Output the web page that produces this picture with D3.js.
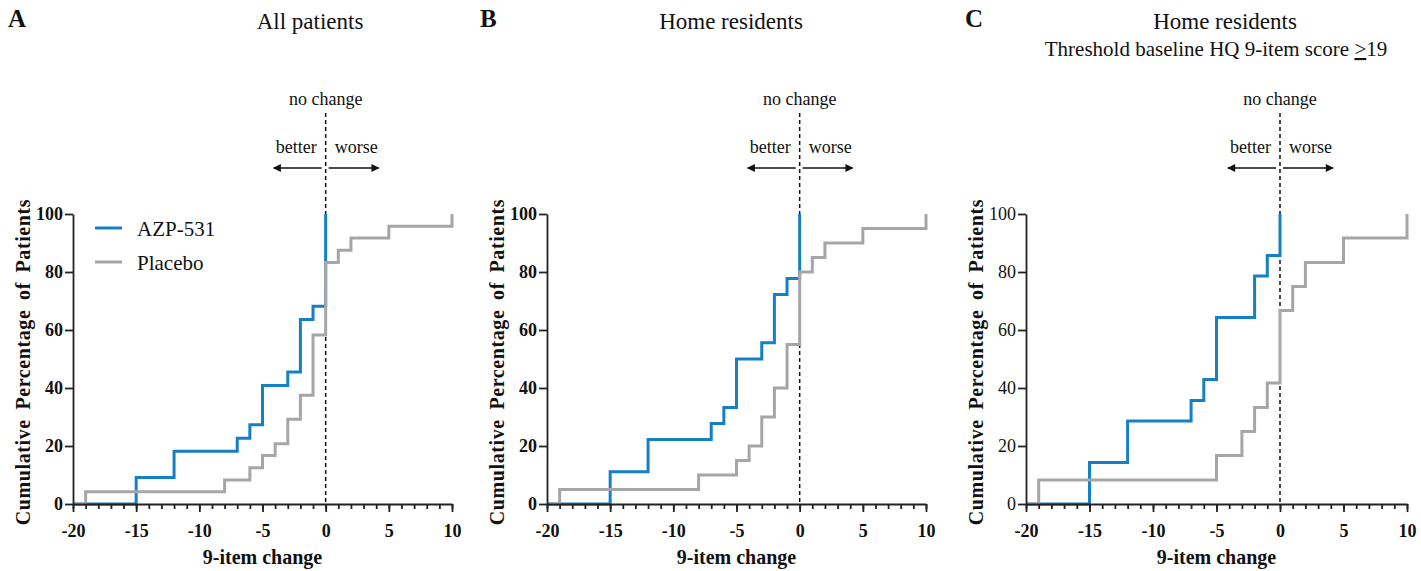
<!DOCTYPE html>
<html lang="en">
<head>
<meta charset="utf-8">
<title>Cumulative change in 9-item score</title>
<script src="https://cdn.jsdelivr.net/npm/d3@7"></script>
<style>
body{ margin:0; background:#fff; }
.axis path, .axis line{ stroke:#222; stroke-width:1.8; }
.step{ fill:none; stroke-width:3; }
</style>
</head>
<body>
<div id="chart"></div>
<script>
// tick labels
var xTicks = [-20, -15, -10, -5, 0, 5, 10];
var yTicks = [0, 20, 40, 60, 80, 100];
var seriesNames = ["AZP-531", "Placebo"];
var seriesColors = ["#1580c4", "#a6a6a8"];

// A - all patients
var azpChangeA = [-20, -15, -12, -7, -6, -5, -3, -2, -1, 0];
var azpPctA = [0, 9.1, 18.2, 22.7, 27.3, 40.9, 45.5, 63.6, 68.2, 100];
var placeboChangeA = [-20, -19, -8, -6, -5, -4, -3, -2, -1, 0, 1, 2, 5, 10];
var placeboPctA = [0, 4.2, 8.3, 12.5, 16.7, 20.8, 29.2, 37.5, 58.3, 83.3, 87.5, 91.7, 95.8, 100];

// B - home residents
var azpChangeB = [-20, -15, -12, -7, -6, -5, -3, -2, -1, 0];
var azpPctB = [0, 11.1, 22.2, 27.8, 33.3, 50, 55.6, 72.2, 77.8, 100];
var placeboChangeB = [-20, -19, -8, -5, -4, -3, -2, -1, 0, 1, 2, 5, 10];
var placeboPctB = [0, 5, 10, 15, 20, 30, 40, 55, 80, 85, 90, 95, 100];

// C - home residents, baseline >= 19
var azpChangeC = [-20, -15, -12, -7, -6, -5, -2, -1, 0];
var azpPctC = [0, 14.3, 28.6, 35.7, 42.9, 64.3, 78.6, 85.7, 100];
var placeboChangeC = [-20, -19, -5, -3, -2, -1, 0, 1, 2, 5, 10];
var placeboPctC = [0, 8.3, 16.7, 25, 33.3, 41.7, 66.7, 75, 83.3, 91.7, 100];

var W = 1421, H = 571;
var plotTop = 214, plotBottom = 504;
var serif = "'Liberation Serif', 'Times New Roman', Times, serif";

var svg = d3.select("#chart").append("svg")
  .attr("width", W)
  .attr("height", H);

// arrow head
svg.append("defs").append("marker")
  .attr("id", "head")
  .attr("viewBox", "0 0 10 10")
  .attr("refX", 9).attr("refY", 5)
  .attr("markerWidth", 6).attr("markerHeight", 5)
  .attr("markerUnits", "strokeWidth")
  .attr("orient", "auto")
  .append("path").attr("d", "M0,0L10,5L0,10z").attr("fill", "#111");

function zip(xs, ys) {
  return xs.map(function(v, i) { return [v, ys[i]]; });
}

var panels = [
  { letter: "A", left: 73, right: 452, letterX: 8, title: ["All patients"], titleX: [310],
    bold: true, legend: true,
    series: [zip(azpChangeA, azpPctA), zip(placeboChangeA, placeboPctA)] },
  { letter: "B", left: 547, right: 926, letterX: 480, title: ["Home residents"], titleX: [731],
    bold: true, legend: false,
    series: [zip(azpChangeB, azpPctB), zip(placeboChangeB, placeboPctB)] },
  { letter: "C", left: 1026, right: 1407, letterX: 965,
    title: ["Home residents", "Threshold baseline HQ 9-item score "], titleX: [1225, 1216],
    bold: false, legend: false,
    series: [zip(azpChangeC, azpPctC), zip(placeboChangeC, placeboPctC)] }
];

panels.forEach(function(p) {
  var x = d3.scaleLinear().domain([-20, 10]).range([p.left, p.right]);
  var y = d3.scaleLinear().domain([0, 100]).range([plotBottom, plotTop]);
  var g = svg.append("g");

  // panel letter + titles
  g.append("text").attr("x", p.letterX).attr("y", 27)
    .attr("font-size", 25).attr("font-weight", "bold").text(p.letter);
  g.append("text").attr("x", p.titleX[0]).attr("y", 29)
    .attr("font-size", 23).attr("text-anchor", "middle").text(p.title[0]);
  if (p.title.length > 1) {
    var sub = g.append("text").attr("x", p.titleX[1]).attr("y", 56)
      .attr("font-size", 21).attr("text-anchor", "middle").text(p.title[1]);
    sub.append("tspan").attr("text-decoration", "underline").text(">");
    sub.append("tspan").text("19");
  }

  // no change marker
  var x0 = x(0);
  g.append("line")
    .attr("x1", x0).attr("x2", x0).attr("y1", 113).attr("y2", plotBottom)
    .attr("stroke", "#111").attr("stroke-width", 1.5).attr("stroke-dasharray", "4,3");
  g.append("text").attr("x", x0).attr("y", 105).attr("text-anchor", "middle")
    .attr("font-size", 18).text("no change");
  g.append("text").attr("x", x0 - 9).attr("y", 153).attr("text-anchor", "end")
    .attr("font-size", 18).text("better");
  g.append("text").attr("x", x0 + 9).attr("y", 153)
    .attr("font-size", 18).text("worse");
  g.append("line").attr("x1", x0 - 4).attr("x2", x0 - 52).attr("y1", 168).attr("y2", 168)
    .attr("stroke", "#111").attr("stroke-width", 1.6).attr("marker-end", "url(#head)");
  g.append("line").attr("x1", x0 + 3).attr("x2", x0 + 53).attr("y1", 168).attr("y2", 168)
    .attr("stroke", "#111").attr("stroke-width", 1.6).attr("marker-end", "url(#head)");

  // step curves, placebo drawn over AZP-531
  var line = d3.line()
    .x(function(d) { return x(d[0]); })
    .y(function(d) { return y(d[1]); })
    .curve(d3.curveStepAfter);
  p.series.forEach(function(s, i) {
    g.append("path").attr("class", "step")
      .attr("d", line(s))
      .attr("stroke", seriesColors[i]);
  });

  // axes
  g.append("g").attr("class", "axis")
    .attr("transform", "translate(0," + plotBottom + ")")
    .call(d3.axisBottom(x).tickValues(d3.range(-20, 11)).tickSize(5).tickSizeOuter(0).tickFormat(""));
  var xa = g.append("g").attr("class", "axis")
    .attr("transform", "translate(0," + plotBottom + ")")
    .call(d3.axisBottom(x).tickValues(xTicks).tickSize(8).tickSizeOuter(0).tickPadding(12)
      .tickFormat(function(d) { return String(d); }));
  xa.select(".domain").remove();
  xa.selectAll("text").attr("font-size", 18).attr("font-weight", "bold");

  var ya = g.append("g").attr("class", "axis")
    .attr("transform", "translate(" + p.left + ",0)")
    .call(d3.axisLeft(y).tickValues(yTicks).tickSize(8).tickSizeOuter(0).tickPadding(2));
  ya.selectAll("text").attr("font-size", 18).attr("font-weight", p.bold ? "bold" : "normal");

  // axis titles
  g.append("text")
    .attr("x", (p.left + p.right) / 2).attr("y", plotBottom + 60)
    .attr("text-anchor", "middle").attr("font-size", 20).attr("font-weight", "bold")
    .text("9-item change");
  g.append("text")
    .attr("transform", "translate(" + (p.left - 43) + "," + ((plotTop + plotBottom) / 2 + 3) + ") rotate(-90)")
    .attr("text-anchor", "middle").attr("font-size", 20).attr("font-weight", "bold")
    .attr("letter-spacing", 0.6).attr("word-spacing", 4)
    .text("Cumulative Percentage of Patients");

  // legend
  if (p.legend) {
    seriesNames.forEach(function(name, i) {
      var ly = 228 + i * 34;
      g.append("line").attr("x1", 95).attr("x2", 122).attr("y1", ly).attr("y2", ly)
        .attr("stroke", seriesColors[i]).attr("stroke-width", 3);
      g.append("text").attr("x", 137).attr("y", ly + 8).attr("font-size", 21).text(name);
    });
  }
});

// serif everywhere, including the axis labels d3 styles as sans-serif
svg.selectAll("g").attr("font-family", null);
svg.selectAll("text").style("font-family", serif).attr("fill", "#111");
</script>
</body>
</html>
